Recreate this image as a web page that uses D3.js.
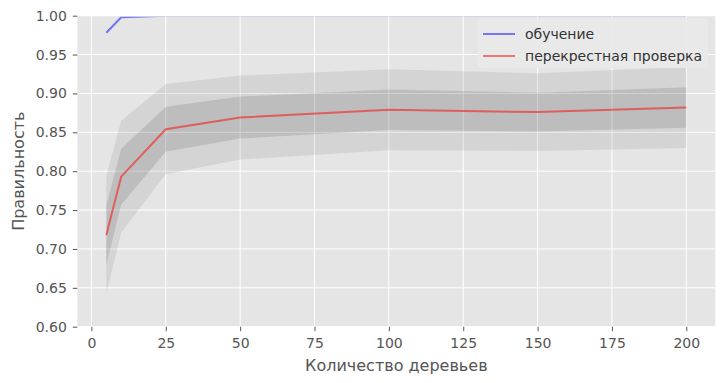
<!DOCTYPE html>
<html>
<head>
<meta charset="utf-8">
<script src="https://cdn.jsdelivr.net/npm/d3@7"></script>
<style>
  body { margin: 0; background: #fff; }
  text { font-family: "DejaVu Sans", sans-serif; }
</style>
</head>
<body>
<svg id="chart" width="725" height="383"></svg>
<script>
// number of trees vs accuracy
const nTrees = [5, 10, 25, 50, 100, 150, 200];
const trainMean = [0.978, 0.998, 1.0, 1.0, 1.0, 1.0, 1.0];
const cvMean = [0.718, 0.793, 0.854, 0.869, 0.879, 0.876, 0.882];
const cvStd = [0.038, 0.036, 0.029, 0.027, 0.026, 0.025, 0.026];
const xTicks = [0, 25, 50, 75, 100, 125, 150, 175, 200];
const yTicks = [0.6, 0.65, 0.7, 0.75, 0.8, 0.85, 0.9, 0.95, 1.0];
const legendLabels = ["обучение", "перекрестная проверка"];

const plot = { left: 77.3, right: 715.3, top: 15.7, bottom: 326.7 };

const svg = d3.select("#chart");

const x = d3.scaleLinear().domain([-4.75, 209.75]).range([plot.left, plot.right]);
const y = d3.scaleLinear().domain([0.6, 1.0]).range([plot.bottom, plot.top]);

// background
svg.append("rect")
  .attr("x", plot.left)
  .attr("y", plot.top)
  .attr("width", plot.right - plot.left)
  .attr("height", plot.bottom - plot.top)
  .attr("fill", "#e5e5e5");

// grid
svg.append("g").selectAll("line").data(xTicks).enter().append("line")
  .attr("x1", (d) => x(d)).attr("x2", (d) => x(d))
  .attr("y1", plot.top).attr("y2", plot.bottom)
  .attr("stroke", "#fff").attr("stroke-width", 1);
svg.append("g").selectAll("line").data(yTicks).enter().append("line")
  .attr("x1", plot.left).attr("x2", plot.right)
  .attr("y1", (d) => y(d)).attr("y2", (d) => y(d))
  .attr("stroke", "#fff").attr("stroke-width", 1);

svg.append("clipPath").attr("id", "clip")
  .append("rect")
  .attr("x", plot.left)
  .attr("y", y(1.0) + 1)
  .attr("width", plot.right - plot.left)
  .attr("height", plot.bottom - y(1.0) - 1);

const rows = nTrees.map((n, i) => ({ n, train: trainMean[i], m: cvMean[i], s: cvStd[i] }));
const g = svg.append("g").attr("clip-path", "url(#clip)");

// +-2 std and +-1 std bands
const band = (k) => d3.area()
  .x((d) => x(d.n))
  .y0((d) => y(d.m - k * d.s))
  .y1((d) => y(d.m + k * d.s));

g.append("path").datum(rows).attr("d", band(2)).attr("fill", "#000").attr("fill-opacity", 0.075);
g.append("path").datum(rows).attr("d", band(1)).attr("fill", "#000").attr("fill-opacity", 0.105);

const line = (key) => d3.line().x((d) => x(d.n)).y((d) => y(d[key]));

g.append("path").datum(rows).attr("d", line("train"))
  .attr("fill", "none").attr("stroke", "#0000ff").attr("stroke-opacity", 0.5).attr("stroke-width", 2);
g.append("path").datum(rows).attr("d", line("m"))
  .attr("fill", "none").attr("stroke", "#ff0000").attr("stroke-opacity", 0.5).attr("stroke-width", 2);

// axes
const xAxis = svg.append("g")
  .attr("transform", `translate(0, ${plot.bottom})`)
  .call(d3.axisBottom(x).tickValues(xTicks).tickSize(4.5).tickPadding(5).tickFormat(d3.format("d")));
const yAxis = svg.append("g")
  .attr("transform", `translate(${plot.left}, 0)`)
  .call(d3.axisLeft(y).tickValues(yTicks).tickSize(4.5).tickPadding(6).tickFormat(d3.format(".2f")));

[xAxis, yAxis].forEach((a) => {
  a.select(".domain").remove();
  a.selectAll(".tick line").attr("stroke", "#555");
  a.selectAll(".tick text").attr("fill", "#555").style("font-size", "14px").style("font-family", "DejaVu Sans");
});
xAxis.selectAll(".tick text").attr("dy", "0.85em");

svg.append("text")
  .attr("x", (plot.left + plot.right) / 2)
  .attr("y", 371)
  .attr("text-anchor", "middle")
  .attr("fill", "#555")
  .style("font-size", "16px")
  .text("Количество деревьев");

svg.append("text")
  .attr("transform", `translate(24, ${(plot.top + plot.bottom) / 2}) rotate(-90)`)
  .attr("text-anchor", "middle")
  .attr("fill", "#555")
  .style("font-size", "16px")
  .text("Правильность");

// legend
const legend = svg.append("g");
legend.append("rect")
  .attr("x", 478).attr("y", 18).attr("width", 230).attr("height", 50)
  .attr("rx", 3).attr("fill", "#e9e9e9").attr("fill-opacity", 0.9);
const legendColors = ["#0000ff", "#ff0000"];
legendLabels.forEach((lab, i) => {
  const ly = 34 + i * 22;
  legend.append("line")
    .attr("x1", 483).attr("x2", 515).attr("y1", ly).attr("y2", ly)
    .attr("stroke", legendColors[i]).attr("stroke-opacity", 0.5).attr("stroke-width", 2);
  legend.append("text")
    .attr("x", 525).attr("y", ly + 5)
    .attr("fill", "#333")
    .style("font-size", "14px")
    .text(lab);
});
</script>
</body>
</html>
